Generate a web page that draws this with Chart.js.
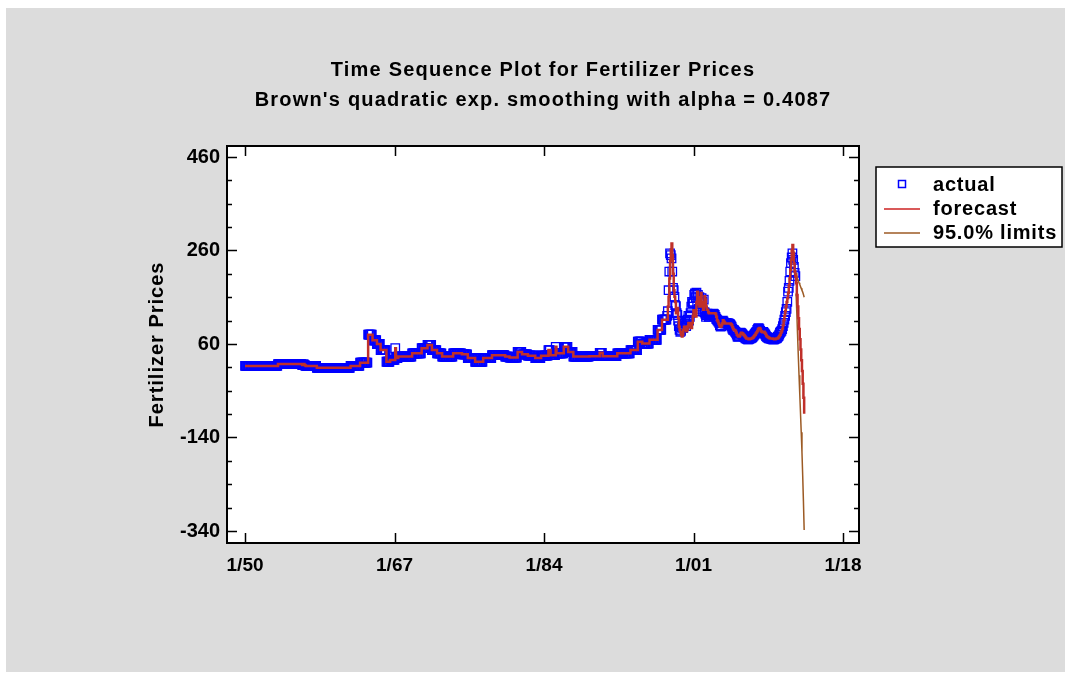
<!DOCTYPE html>
<html>
<head>
<meta charset="utf-8">
<script src="https://cdn.jsdelivr.net/npm/chart.js@4.4.0/dist/chart.umd.min.js"></script>
<style>
  html, body { margin: 0; padding: 0; background: #fff; }
  #wrap { position: absolute; left: 6px; top: 8px; width: 1059px; height: 664px; background: #dcdcdc; }
</style>
</head>
<body>
<div id="wrap"><canvas id="chart" width="1059" height="664"></canvas></div>
<script>
// monthly actual prices, Jan 1950 .. Aug 2012
const act1950s = [
  13,13,13,13,13,13,13,13,13,13,13,13,
  13,13,13,13,13,13,13,13,13,13,13,13,
  13,13,13,13,13,13,13,13,13,13,13,13,
  13,13,13,13,13,13,13,13,13,17,17,17,
  17,17,17,17,17,17,17,17,17,17,17,17,
  17,17,17,17,17,17,17,17,17,17,17,17,
  17,17,17,17,17,17,15,15,17,15,14,13,
  13,13,13,13,13,13,13,13,13,13,13,13,
  13,13,9,9,9,9,9,9,9,9,9,9,
  9,9,9,9,9,9,9,9,9,9,9,9
];
const act1960s = [
  9,9,9,9,9,9,9,9,9,9,9,9,
  9,9,9,9,9,9,9,9,9,9,9,9,
  13,13,13,13,13,13,13,13,13,13,13,13,
  13,20,20,20,20,20,20,20,20,20,20,20,
  80,80,80,80,80,80,68,68,68,68,68,68,
  60,60,60,60,60,47,47,47,47,47,47,47,
  47,22,22,22,22,22,26,26,26,26,26,26,
  26,51,30,30,30,33,33,33,33,33,33,33,
  33,33,33,33,33,33,33,33,33,33,33,33,
  40,40,40,40,40,40,40,40,40,40,40,40
];
const act1970s = [
  40,51,51,51,51,51,51,51,51,58,58,58,
  58,58,58,47,47,47,47,47,47,47,40,40,
  40,40,40,40,40,33,33,33,33,33,33,33,
  33,33,33,33,33,33,33,33,40,40,40,40,
  40,40,40,40,40,40,40,40,38,38,38,38,
  38,38,38,38,30,30,30,30,30,30,30,30,
  30,30,22,22,22,22,22,22,22,22,22,22,
  22,30,30,30,30,30,30,30,30,30,30,30,
  30,36,36,36,36,36,36,36,36,36,36,36,
  36,36,36,36,36,36,36,33,33,33,33,33
];
const act1980s = [
  33,31,31,31,31,31,31,31,31,31,31,31,
  43,43,43,43,43,43,38,38,38,38,38,38,
  38,38,35,35,35,35,35,35,35,35,35,35,
  30,30,30,30,30,30,30,30,35,35,35,35,
  35,35,35,35,35,35,47,47,47,36,36,36,
  36,36,36,36,54,40,40,40,40,40,40,40,
  40,40,40,54,54,54,54,54,54,43,43,43,
  43,43,43,43,33,33,33,33,33,33,33,33,
  33,33,33,33,33,33,33,33,33,33,33,33,
  33,33,34,34,34,34,34,34,34,34,34,34
];
const act1990s = [
  34,34,34,34,41,41,41,41,34,34,34,34,
  34,34,34,34,34,34,34,34,34,34,34,34,
  34,34,34,34,40,40,40,40,40,40,40,40,
  40,40,40,40,40,40,40,40,40,40,47,47,
  47,47,47,47,47,47,47,47,65,65,65,65,
  65,65,61,61,61,61,61,61,61,61,61,61,
  69,69,69,69,69,69,69,69,69,69,69,90,
  90,90,90,90,90,112,112,112,112,112,112,112,
  120,130,175,215,254,250,243,215,180,175,161,143,
  141,126,122,110,98,90,86,88,95,100,94,98
];
const act2000s = [
  104,108,98,104,112,120,110,118,126,140,150,147,
  150,165,168,160,170,145,165,135,160,130,140,158,
  150,130,155,128,125,118,122,125,122,118,120,122,
  122,122,124,125,124,122,118,114,112,110,108,105,
  100,97,98,104,110,108,105,104,104,105,104,104,
  104,103,102,100,97,93,90,90,88,86,84,80,
  76,75,78,82,84,83,82,80,78,76,74,72,
  72,71,70,70,71,72,72,73,74,76,78,80,
  82,84,86,90,93,94,92,88,86,84,86,86,
  84,82,80,77,75,74,73,72,72,72,71,71
];
const act2010s = [
  70,70,70,71,72,72,73,75,77,80,84,86,
  88,92,98,105,112,120,128,135,150,172,180,195,
  215,233,245,254,240,225,212,205
];

// one-step forecasts, Jan 1998 .. Aug 2012 (earlier ones sit on the actuals)
const fcRecent = [
  112,140,161,200,238,262,275,250,210,175,161,150,
  126,126,137,115,97,90,85,80,76,80,90,97,
  97,92,87,90,98,105,105,98,94,94,105,120,
  132,132,119,119,150,172,160,145,140,150,169,150,
  140,133,145,162,155,140,133,133,128,126,126,126,
  126,126,126,126,126,126,124,118,111,108,104,100,
  97,97,100,104,111,108,106,104,104,104,104,104,
  104,104,104,102,100,96,92,90,90,88,84,80,
  78,76,76,78,82,84,83,82,80,78,76,74,
  72,72,71,70,70,71,72,72,73,74,76,78,
  80,83,85,88,92,93,94,91,87,86,85,86,
  86,84,82,78,76,75,74,73,72,72,72,72,
  71,71,70,70,71,72,72,73,75,77,80,84,
  87,92,100,111,120,130,140,150,158,169,185,200,
  218,240,261,272,255,232,215,205
];
// forecasts ahead, Sep 2012 .. Aug 2013
const fcAhead = [190,165,140,115,92,70,48,25,2,-25,-55,-89];
const upper95 = [212,205,200,195,191,187,183,179,175,171,166,160];
const lower95 = [168,125,80,35,-7,-47,-87,-129,-171,-221,-276,-338];

const xTickYears = [1950, 1967, 1984, 2001, 2018];
const yTicks = [-340, -140, 60, 260, 460];

const FONT = '"Liberation Sans", Arial, sans-serif';
const yTickFont = { family: FONT, size: 20, weight: 'bold' };
const xTickFont = { family: FONT, size: 19, weight: 'bold' };

const actual = [...act1950s, ...act1960s, ...act1970s, ...act1980s, ...act1990s, ...act2000s, ...act2010s];
const monthX = i => 1950 + i / 12;

const actualPts = actual.map((v, i) => ({ x: monthX(i), y: v }));
const nEarly = 48 * 12; // up to Dec 1997
const fcSeries = [...actual.slice(0, nEarly), ...fcRecent, ...fcAhead];
const fcPts = fcSeries.map((v, i) => ({ x: monthX(i), y: v }));
const aheadStart = actual.length;
const upperPts = upper95.map((v, i) => ({ x: monthX(aheadStart + i), y: v }));
const lowerPts = lower95.map((v, i) => ({ x: monthX(aheadStart + i), y: v }));

const framePlugin = {
  id: 'frame',
  beforeDatasetsDraw(chart) {
    const { ctx, chartArea: a } = chart;
    ctx.save();
    ctx.fillStyle = '#fff';
    ctx.fillRect(a.left, a.top, a.right - a.left, a.bottom - a.top);
    ctx.restore();
  },
  afterDraw(chart) {
    const { ctx, chartArea: a, scales: { x, y } } = chart;
    ctx.save();
    ctx.strokeStyle = '#000';
    ctx.lineWidth = 2;
    ctx.strokeRect(a.left, a.top, a.right - a.left, a.bottom - a.top);

    // inward ticks on all four sides
    ctx.lineWidth = 1.5;
    ctx.beginPath();
    for (let v = -340; v <= 460; v += 50) {
      const py = Math.round(y.getPixelForValue(v)) + 0.5;
      const len = yTicks.includes(v) ? 10 : 5;
      ctx.moveTo(a.left, py); ctx.lineTo(a.left + len, py);
      ctx.moveTo(a.right, py); ctx.lineTo(a.right - len, py);
    }
    xTickYears.forEach(v => {
      const px = Math.round(x.getPixelForValue(v)) + 0.5;
      ctx.moveTo(px, a.bottom); ctx.lineTo(px, a.bottom - 10);
      ctx.moveTo(px, a.top); ctx.lineTo(px, a.top + 10);
    });
    ctx.stroke();

    // titles
    ctx.fillStyle = '#000';
    ctx.font = 'bold 20px ' + FONT;
    ctx.letterSpacing = '1.2px';
    ctx.textAlign = 'center';
    ctx.textBaseline = 'middle';
    const cx = (a.left + a.right) / 2;
    ctx.fillText('Time Sequence Plot for Fertilizer Prices', cx, 62);
    ctx.fillText("Brown's quadratic exp. smoothing with alpha = 0.4087", cx, 92);

    // y axis title
    ctx.save();
    ctx.letterSpacing = '1px';
    ctx.translate(151, (a.top + a.bottom) / 2);
    ctx.rotate(-Math.PI / 2);
    ctx.fillText('Fertilizer Prices', 0, 0);
    ctx.restore();

    // legend
    ctx.fillStyle = '#fff';
    ctx.fillRect(870, 159, 186, 80);
    ctx.strokeStyle = '#000';
    ctx.lineWidth = 1.5;
    ctx.strokeRect(870, 159, 186, 80);
    ctx.strokeStyle = '#0000ff';
    ctx.lineWidth = 1.5;
    ctx.strokeRect(892.5, 172.5, 7, 7);
    ctx.strokeStyle = '#cc2222';
    ctx.beginPath(); ctx.moveTo(878, 201); ctx.lineTo(914, 201); ctx.stroke();
    ctx.strokeStyle = '#9c5a24';
    ctx.beginPath(); ctx.moveTo(878, 225); ctx.lineTo(914, 225); ctx.stroke();
    ctx.fillStyle = '#000';
    ctx.textAlign = 'left';
    ctx.letterSpacing = '0.8px';
    ctx.fillText('actual', 927, 177);
    ctx.fillText('forecast', 927, 201);
    ctx.fillText('95.0% limits', 927, 225);
    ctx.restore();
  }
};

new Chart(document.getElementById('chart'), {
  type: 'line',
  data: {
    datasets: [
      {
        label: 'forecast', data: fcPts, borderColor: '#c0302a', borderWidth: 2.5,
        pointRadius: 0, stepped: true, fill: false, order: 0
      },
      {
        label: '95.0% limits', data: upperPts, borderColor: '#9c5a24', borderWidth: 1.5,
        pointRadius: 0, fill: false, order: 1
      },
      {
        label: '95.0% limits', data: lowerPts, borderColor: '#9c5a24', borderWidth: 1.5,
        pointRadius: 0, fill: false, order: 1
      },
      {
        label: 'actual', data: actualPts, showLine: false, order: 5,
        pointStyle: 'rect', pointRadius: 6, pointBorderWidth: 1.3,
        pointBorderColor: '#0000ff', pointBackgroundColor: 'rgba(0,0,0,0)'
      }
    ]
  },
  options: {
    responsive: false,
    animation: false,
    events: [],
    layout: { autoPadding: false, padding: { left: 0, top: 138, right: 206, bottom: 0 } },
    plugins: { legend: { display: false }, title: { display: false }, tooltip: { enabled: false } },
    scales: {
      x: {
        type: 'linear', min: 1947.95, max: 2019.82,
        grid: { display: false, drawTicks: false },
        border: { display: false },
        afterBuildTicks: s => { s.ticks = xTickYears.map(v => ({ value: v })); },
        afterFit: s => { s.height = 129; },
        ticks: {
          autoSkip: false, maxRotation: 0, padding: 11, color: '#000', font: xTickFont,
          callback: v => '1/' + String(v).slice(2)
        }
      },
      y: {
        type: 'linear', min: -365.7, max: 483.5,
        grid: { display: false, drawTicks: false },
        border: { display: false },
        afterBuildTicks: s => { s.ticks = yTicks.map(v => ({ value: v })); },
        afterFit: s => { s.width = 221; },
        ticks: { autoSkip: false, padding: 7, color: '#000', font: yTickFont }
      }
    }
  },
  plugins: [framePlugin]
});
</script>
</body>
</html>
